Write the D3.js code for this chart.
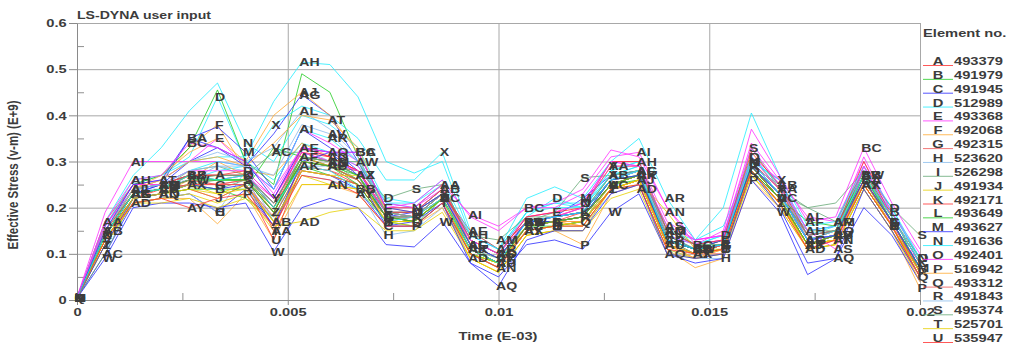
<!DOCTYPE html>
<html>
<head>
<meta charset="utf-8">
<script src="https://cdn.jsdelivr.net/npm/d3@7"></script>
<style>
  html, body { margin: 0; padding: 0; background: #fff; }
  svg { display: block; }
  text { font-family: "Liberation Sans", Arial, sans-serif; font-weight: bold; fill: #3c3c3c; }
</style>
</head>
<body>
<svg id="chart" width="1015" height="344"></svg>
<script>
// sample times (E-03)
const TIMES = [0, 0.000667, 0.001333, 0.002, 0.002667, 0.003333, 0.004, 0.004667, 0.005333, 0.006,
  0.006667, 0.007333, 0.008, 0.008667, 0.009333, 0.01, 0.010667, 0.011333, 0.012, 0.012667,
  0.013333, 0.014, 0.014667, 0.015333, 0.016, 0.016667, 0.017333, 0.018, 0.018667, 0.019333, 0.02]

const CURVE_LABELS = ["A","B","C","D","E","F","G","H","I","J","K","L","M","N","O","P","Q","R","S","T","U",
  "V","W","X","Y","Z","AA","AB","AC","AD","AE","AF","AG","AH","AI","AJ","AK","AL","AM","AN","AO","AP",
  "AQ","AR","AS","AT","AU","AV","AW","AX","AY","AZ","BA","BB","BC"]

const ELEMENT_IDS = ["493379","491979","491945","512989","493368","492068","492315","523620","526298",
  "491934","492171","493649","493627","491636","492401","516942","493312","491843","495374","525701","535947"]

const Y_TICKS = [0, 0.1, 0.2, 0.3, 0.4, 0.5, 0.6]
const Y_MINOR = [0.05, 0.15, 0.25, 0.35, 0.45, 0.55]
const X_TICKS = [0, 0.005, 0.01, 0.015, 0.02]
const X_MINOR = [0.0025, 0.0075, 0.0125, 0.0175]

// effective stress per element, one row per curve A..BC
const STRESS = [
  [.005,.15,.23,.24,.27,.27,.27,.20,.31,.29,.26,.18,.18,.23,.12,.09,.17,.17,.19,.26,.27,.13,.11,.12,.29,.25,.13,.14,.27,.17,.07],
  [.005,.14,.22,.23,.25,.24,.22,.18,.29,.27,.25,.17,.16,.22,.10,.08,.15,.16,.17,.24,.26,.12,.10,.11,.28,.22,.12,.13,.26,.19,.06],
  [.004,.10,.21,.22,.23,.19,.24,.16,.28,.27,.24,.16,.17,.21,.10,.07,.15,.16,.17,.24,.26,.12,.10,.11,.28,.22,.12,.13,.25,.16,.05],
  [.006,.16,.25,.27,.31,.44,.30,.26,.34,.32,.29,.22,.21,.25,.13,.10,.18,.22,.20,.27,.29,.15,.12,.14,.31,.25,.14,.16,.28,.20,.08],
  [.005,.16,.25,.26,.30,.35,.29,.24,.33,.32,.29,.20,.20,.24,.14,.11,.18,.19,.21,.30,.29,.15,.12,.13,.30,.24,.14,.15,.29,.16,.08],
  [.005,.15,.24,.26,.33,.38,.28,.27,.34,.31,.28,.19,.18,.23,.12,.09,.16,.17,.18,.25,.27,.13,.10,.12,.29,.22,.12,.14,.26,.17,.06],
  [.005,.14,.23,.24,.26,.25,.26,.19,.30,.29,.26,.18,.17,.22,.11,.08,.16,.17,.18,.25,.27,.12,.10,.12,.29,.22,.12,.14,.26,.17,.07],
  [.004,.12,.21,.22,.23,.19,.28,.17,.27,.26,.24,.14,.15,.20,.10,.07,.15,.16,.16,.23,.25,.11,.09,.09,.28,.21,.11,.12,.25,.16,.05],
  [.005,.14,.23,.24,.28,.29,.27,.20,.30,.29,.26,.18,.18,.23,.11,.09,.16,.17,.18,.25,.27,.13,.11,.12,.29,.22,.13,.14,.27,.17,.07],
  [.005,.13,.22,.23,.24,.22,.25,.17,.28,.27,.25,.17,.17,.22,.10,.08,.15,.16,.17,.24,.26,.12,.10,.11,.28,.21,.12,.13,.25,.16,.06],
  [.005,.15,.24,.25,.27,.27,.27,.21,.31,.30,.27,.18,.18,.23,.12,.09,.17,.18,.19,.26,.28,.13,.11,.13,.30,.23,.13,.15,.27,.18,.08],
  [.006,.16,.25,.27,.33,.455,.30,.25,.49,.45,.31,.19,.19,.24,.12,.09,.17,.18,.19,.27,.28,.14,.11,.13,.31,.24,.14,.15,.28,.18,.08],
  [.005,.14,.23,.25,.35,.375,.32,.24,.37,.33,.28,.18,.19,.23,.12,.09,.17,.18,.22,.27,.28,.13,.11,.13,.30,.23,.13,.14,.27,.17,.07],
  [.005,.17,.27,.33,.41,.47,.34,.30,.40,.38,.33,.21,.20,.25,.13,.10,.19,.21,.21,.28,.30,.15,.13,.16,.30,.26,.15,.16,.28,.19,.09],
  [.005,.16,.24,.25,.27,.26,.27,.21,.32,.30,.27,.19,.19,.24,.13,.10,.18,.19,.21,.30,.30,.17,.13,.14,.31,.26,.15,.16,.31,.19,.09],
  [.004,.12,.21,.22,.22,.165,.23,.13,.25,.25,.23,.16,.16,.20,.09,.06,.14,.15,.12,.23,.25,.11,.07,.09,.26,.20,.11,.12,.24,.15,.025],
  [.005,.13,.22,.23,.24,.22,.25,.17,.28,.27,.25,.17,.17,.22,.10,.07,.16,.17,.17,.24,.26,.12,.10,.10,.28,.22,.11,.13,.25,.16,.05],
  [.005,.15,.24,.25,.26,.29,.28,.20,.29,.29,.26,.18,.18,.23,.12,.09,.17,.17,.18,.26,.27,.14,.11,.12,.29,.23,.13,.14,.26,.17,.06],
  [.005,.14,.23,.24,.25,.24,.26,.19,.30,.29,.28,.22,.24,.25,.13,.10,.17,.19,.265,.27,.28,.16,.12,.12,.33,.24,.20,.21,.28,.20,.14],
  [.005,.12,.21,.22,.23,.21,.23,.15,.25,.25,.24,.17,.16,.21,.09,.06,.14,.15,.15,.24,.25,.11,.09,.10,.27,.21,.11,.12,.24,.15,.04],
  [.005,.14,.22,.24,.25,.25,.25,.13,.29,.28,.25,.17,.18,.22,.11,.08,.16,.17,.18,.25,.27,.12,.10,.12,.29,.22,.12,.14,.26,.17,.06],
  [.005,.13,.22,.23,.24,.24,.24,.33,.31,.29,.25,.17,.17,.22,.10,.08,.16,.16,.17,.25,.26,.12,.10,.11,.28,.22,.12,.13,.26,.16,.06],
  [.004,.09,.20,.21,.21,.20,.21,.105,.20,.22,.20,.12,.115,.17,.08,.05,.12,.13,.11,.19,.23,.10,.08,.09,.26,.19,.055,.09,.20,.14,.04],
  [.005,.14,.23,.24,.26,.28,.29,.38,.42,.40,.35,.26,.26,.32,.15,.11,.19,.21,.20,.27,.29,.14,.12,.13,.30,.26,.14,.15,.27,.18,.08],
  [.005,.15,.24,.25,.27,.27,.27,.22,.33,.31,.28,.19,.18,.23,.12,.09,.17,.18,.20,.29,.29,.14,.12,.13,.31,.24,.14,.15,.29,.18,.08],
  [.005,.12,.22,.23,.26,.30,.27,.19,.31,.29,.26,.17,.17,.22,.11,.08,.16,.17,.16,.24,.26,.12,.09,.11,.28,.21,.12,.13,.25,.16,.04],
  [.005,.17,.25,.25,.27,.27,.27,.15,.30,.29,.28,.20,.20,.25,.12,.09,.17,.18,.20,.29,.29,.14,.11,.12,.30,.24,.13,.15,.28,.17,.07],
  [.005,.15,.24,.24,.26,.26,.26,.17,.33,.30,.27,.19,.19,.24,.11,.08,.17,.18,.19,.27,.28,.13,.11,.12,.29,.25,.13,.14,.27,.17,.07],
  [.005,.10,.22,.23,.25,.26,.27,.32,.32,.30,.26,.18,.18,.22,.11,.08,.16,.17,.18,.25,.27,.13,.10,.12,.29,.22,.15,.15,.26,.17,.07],
  [.004,.12,.21,.21,.22,.20,.22,.16,.17,.19,.20,.15,.15,.19,.09,.06,.14,.15,.15,.22,.24,.10,.09,.10,.27,.20,.11,.12,.24,.15,.05],
  [.005,.15,.23,.24,.27,.27,.27,.20,.33,.31,.28,.19,.18,.23,.15,.11,.17,.18,.19,.26,.28,.13,.11,.12,.30,.23,.13,.14,.27,.17,.07],
  [.005,.14,.23,.24,.26,.26,.26,.19,.31,.30,.27,.18,.17,.22,.12,.09,.17,.17,.18,.26,.27,.13,.11,.12,.29,.22,.17,.16,.27,.17,.07],
  [.005,.14,.23,.25,.30,.33,.29,.36,.445,.40,.30,.19,.18,.23,.12,.09,.17,.17,.18,.26,.28,.13,.11,.12,.29,.23,.13,.14,.26,.17,.06],
  [.006,.16,.26,.27,.30,.31,.31,.43,.515,.51,.44,.30,.275,.30,.14,.11,.19,.20,.20,.28,.30,.15,.12,.14,.31,.25,.15,.16,.28,.19,.09],
  [.006,.19,.30,.30,.30,.30,.29,.24,.37,.34,.30,.21,.20,.25,.185,.16,.20,.20,.23,.31,.32,.20,.13,.14,.34,.26,.18,.17,.30,.19,.10],
  [.005,.15,.24,.27,.32,.35,.30,.40,.45,.40,.32,.20,.19,.23,.11,.08,.16,.17,.16,.24,.26,.12,.09,.11,.29,.22,.12,.13,.25,.16,.05],
  [.005,.14,.23,.24,.25,.25,.25,.18,.29,.28,.26,.18,.17,.22,.11,.08,.16,.17,.18,.25,.27,.12,.10,.12,.29,.22,.12,.14,.26,.17,.06],
  [.005,.15,.24,.26,.30,.32,.30,.33,.41,.37,.31,.19,.18,.23,.12,.09,.17,.18,.19,.26,.28,.14,.11,.12,.30,.23,.13,.14,.27,.17,.07],
  [.005,.14,.24,.25,.27,.27,.27,.21,.31,.30,.27,.19,.19,.23,.14,.13,.18,.18,.19,.27,.28,.15,.12,.12,.30,.23,.20,.17,.28,.18,.09],
  [.005,.13,.22,.23,.24,.23,.24,.17,.27,.25,.24,.17,.17,.22,.10,.07,.15,.16,.16,.24,.26,.19,.11,.11,.28,.21,.12,.13,.25,.16,.06],
  [.005,.15,.24,.25,.27,.27,.28,.22,.32,.31,.28,.19,.19,.24,.13,.10,.18,.19,.20,.30,.30,.15,.12,.13,.32,.25,.14,.15,.30,.18,.08],
  [.005,.14,.23,.24,.26,.26,.26,.20,.30,.29,.26,.18,.17,.22,.11,.08,.16,.17,.18,.25,.27,.13,.11,.12,.29,.22,.12,.14,.26,.17,.07],
  [.004,.12,.22,.23,.25,.24,.25,.16,.30,.32,.27,.16,.16,.21,.08,.03,.13,.15,.15,.23,.25,.10,.09,.10,.28,.20,.08,.09,.24,.15,.05],
  [.005,.15,.24,.25,.28,.30,.29,.24,.37,.35,.30,.21,.21,.26,.14,.11,.22,.245,.22,.30,.35,.22,.13,.20,.405,.27,.16,.17,.29,.20,.09],
  [.005,.16,.25,.25,.28,.28,.28,.22,.32,.30,.28,.19,.18,.23,.13,.10,.17,.18,.20,.30,.29,.16,.13,.14,.33,.25,.15,.11,.29,.18,.08],
  [.005,.15,.24,.26,.30,.31,.29,.34,.40,.39,.33,.19,.18,.23,.12,.09,.16,.17,.17,.25,.27,.12,.10,.11,.29,.22,.12,.13,.26,.16,.05],
  [.005,.14,.23,.24,.26,.25,.26,.19,.30,.29,.26,.18,.17,.22,.11,.08,.16,.17,.18,.25,.27,.12,.10,.12,.29,.22,.12,.14,.26,.17,.06],
  [.005,.15,.24,.25,.28,.29,.29,.27,.38,.36,.30,.19,.18,.23,.12,.09,.17,.18,.19,.26,.28,.14,.11,.12,.30,.23,.13,.14,.27,.17,.07],
  [.005,.14,.23,.24,.26,.27,.27,.21,.31,.30,.30,.19,.18,.23,.12,.09,.17,.18,.19,.26,.27,.14,.11,.12,.29,.23,.14,.15,.27,.18,.08],
  [.005,.13,.22,.23,.25,.23,.25,.17,.28,.27,.27,.17,.17,.22,.10,.08,.15,.16,.17,.24,.26,.12,.10,.11,.28,.21,.12,.13,.25,.16,.06],
  [.005,.13,.21,.22,.20,.22,.23,.16,.27,.26,.23,.16,.16,.21,.10,.07,.15,.16,.16,.24,.25,.11,.10,.11,.28,.21,.11,.13,.25,.16,.05],
  [.005,.14,.23,.24,.27,.26,.26,.19,.30,.29,.27,.18,.17,.22,.11,.08,.16,.17,.18,.25,.27,.13,.11,.12,.29,.22,.12,.14,.27,.17,.07],
  [.005,.15,.25,.26,.35,.33,.30,.22,.33,.32,.32,.20,.19,.23,.12,.09,.17,.18,.19,.26,.27,.13,.11,.12,.29,.23,.13,.14,.26,.17,.07],
  [.005,.14,.23,.24,.27,.26,.27,.20,.29,.28,.24,.17,.18,.22,.11,.08,.17,.18,.19,.26,.28,.13,.11,.12,.30,.23,.13,.15,.27,.18,.08],
  [.005,.17,.26,.27,.34,.33,.30,.23,.33,.32,.32,.20,.21,.26,.18,.15,.20,.21,.24,.325,.31,.20,.12,.15,.37,.27,.17,.18,.33,.21,.11]
]

// LS-PrePost style colour cycle
const COLORS = ["#ff3030", "#22cc22", "#2a2aff", "#22eeff", "#ff30ff", "#ffaa33",
  "#ee5555", "#88bbee", "#66aa77", "#e6d000"]

const SX = 1.28 // the picture is stretched horizontally, text too
const svg = d3.select("#chart")
const margin = { top: 23, right: 95, bottom: 44, left: 77 }
const width = 1015, height = 344
const innerWidth = width - margin.left - margin.right
const innerHeight = height - margin.top - margin.bottom

const x = d3.scaleLinear().domain([0, 0.02]).range([0, innerWidth])
const y = d3.scaleLinear().domain([0, 0.6]).range([innerHeight, 0])

const g = svg.append("g").attr("transform", `translate(${margin.left},${margin.top})`)

// grid
g.append("g")
  .call(d3.axisLeft(y).tickValues(Y_TICKS).tickSize(-innerWidth).tickFormat(""))
  .call((a) => a.select(".domain").remove())
  .selectAll("line").attr("stroke", "#a8a8a8")

g.append("g")
  .attr("transform", `translate(0,${innerHeight})`)
  .call(d3.axisBottom(x).tickValues(X_TICKS).tickSize(-innerHeight).tickFormat(""))
  .call((a) => a.select(".domain").remove())
  .selectAll("line").attr("stroke", "#a8a8a8")

// minor ticks inside the frame
g.append("g")
  .call(d3.axisLeft(y).tickValues(Y_MINOR).tickSize(-7).tickFormat(""))
  .call((a) => a.select(".domain").remove())
  .selectAll("line").attr("stroke", "#909090")

g.append("g")
  .attr("transform", `translate(0,${innerHeight})`)
  .call(d3.axisBottom(x).tickValues(X_MINOR).tickSize(-7).tickFormat(""))
  .call((a) => a.select(".domain").remove())
  .selectAll("line").attr("stroke", "#909090")

// axes
const yAxis = g.append("g")
  .call(d3.axisLeft(y).tickValues(Y_TICKS).tickSize(8).tickSizeOuter(0).tickPadding(0)
    .tickFormat((d) => (d === 0 ? "0" : d3.format(".1f")(d))))
yAxis.selectAll("text")
  .attr("font-size", 11.5).attr("font-family", null).attr("fill", "#3c3c3c")
  .attr("transform", `scale(${SX},1)`)
yAxis.selectAll("line, path").attr("stroke", "#8a8a8a")

const xAxis = g.append("g")
  .attr("transform", `translate(0,${innerHeight})`)
  .call(d3.axisBottom(x).tickValues(X_TICKS).tickSize(5).tickSizeOuter(0).tickPadding(3)
    .tickFormat(d3.format("~g")))
xAxis.selectAll("text")
  .attr("font-size", 11.5).attr("font-family", null).attr("fill", "#3c3c3c")
  .attr("transform", `scale(${SX},1)`)
xAxis.selectAll("line, path").attr("stroke", "#8a8a8a")

// curves
const line = d3.line()
  .x((d, k) => x(TIMES[k]))
  .y((d) => y(d))

g.append("g")
  .selectAll("path")
  .data(STRESS)
  .enter()
  .append("path")
  .attr("fill", "none")
  .attr("stroke", (d, i) => COLORS[i % COLORS.length])
  .attr("stroke-width", 1)
  .attr("stroke-opacity", 0.8)
  .attr("d", line)

// curve letters, staggered along the time axis in six groups
const GROUP_START = [0, 10, 19, 29, 38, 48, 55]
const groupOf = (i) => d3.bisectRight(GROUP_START, i) - 1
const marks = []
STRESS.forEach((row, i) => {
  const grp = groupOf(i)
  row.forEach((v, k) => {
    if ((k - grp + 1) % 6 === 0) marks.push({ i, k, v })
  })
})

g.append("g")
  .selectAll("text")
  .data(marks)
  .enter()
  .append("text")
  .attr("font-size", 11)
  .attr("fill", "#3a3a3a")
  .attr("transform", (d) => `translate(${x(TIMES[d.k]) - 2.5},${y(d.v) + 4}) scale(${SX},1)`)
  .text((d) => CURVE_LABELS[d.i])

// titles
svg.append("text")
  .attr("font-size", 11)
  .attr("transform", `translate(77,19) scale(${SX},1)`)
  .text("LS-DYNA user input")

svg.append("text")
  .attr("font-size", 11.5)
  .attr("text-anchor", "middle")
  .attr("transform", `translate(498,340) scale(${SX},1)`)
  .text("Time (E-03)")

svg.append("text")
  .attr("font-size", 11.5)
  .attr("text-anchor", "middle")
  .attr("transform", `translate(18,175) scale(${SX},1) rotate(-90)`)
  .text("Effective Stress (v-m) (E+9)")

// legend
const legend = svg.append("g").attr("transform", "translate(923,0)")
legend.append("text")
  .attr("font-size", 11.5)
  .attr("transform", `translate(0,37) scale(${SX},1)`)
  .text("Element no.")

const item = legend.selectAll(".item")
  .data(ELEMENT_IDS)
  .enter()
  .append("g")
  .attr("class", "item")
  .attr("transform", (d, i) => `translate(0,${65 + i * 13.85})`)

item.append("line")
  .attr("x1", 0).attr("x2", 30).attr("y1", 0.5).attr("y2", 0.5)
  .attr("stroke", (d, i) => COLORS[i % COLORS.length])
  .attr("stroke-opacity", 0.8)

item.append("text")
  .attr("font-size", 11.5)
  .attr("text-anchor", "middle")
  .attr("transform", `translate(15,0) scale(${SX},1)`)
  .text((d, i) => CURVE_LABELS[i])

item.append("text")
  .attr("font-size", 11.5)
  .attr("transform", `translate(31,0) scale(${SX},1)`)
  .text((d) => d)
</script>
</body>
</html>
